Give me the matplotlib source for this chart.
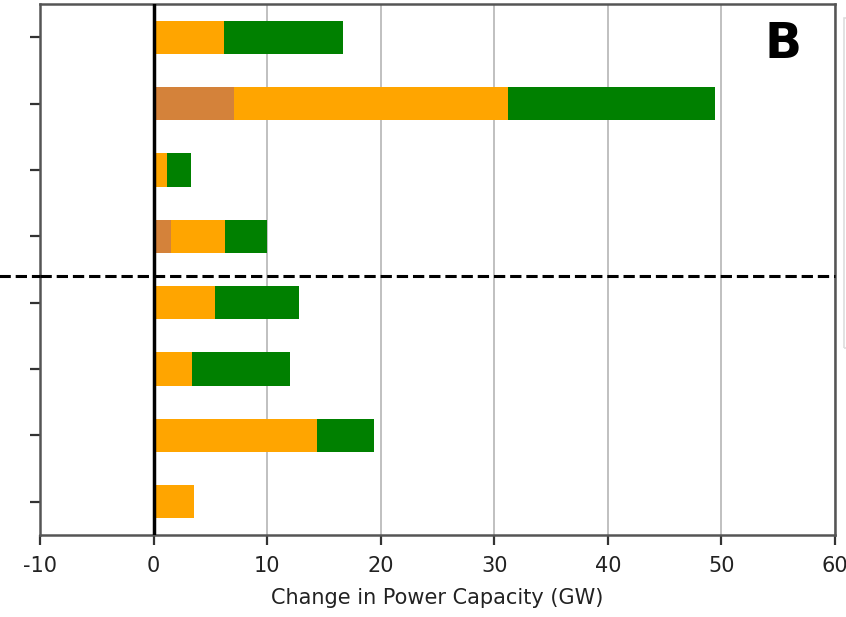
import matplotlib
matplotlib.use("Agg")
import matplotlib.pyplot as plt
import numpy as np
from matplotlib.patches import Rectangle

# rows listed top to bottom
rows = ["r1", "r2", "r3", "r4", "r5", "r6", "r7", "r8"]
seg_dark = [0.0, 7.1, 0.0, 1.5, 0.0, 0.0, 0.0, 0.0]
seg_orange = [6.2, 24.1, 1.2, 4.8, 5.4, 3.4, 14.4, 3.6]
seg_green = [10.5, 18.2, 2.1, 3.7, 7.4, 8.6, 5.0, 0.0]

xticks = [-10, 0, 10, 20, 30, 40, 50, 60]
xlabel = "Change in Power Capacity (GW)"
panel = "B"
divider_y = 3.4

fig = plt.figure(figsize=(8.46, 6.17), dpi=100)
ax = fig.add_axes([40/846, 1-535/617, (835-40)/846, (535-4)/617])

y = np.arange(len(rows))[::-1]
d = np.array(seg_dark)
o = np.array(seg_orange)
g = np.array(seg_green)
ax.barh(y, d, height=0.5, color="#D4823A", zorder=3)
ax.barh(y, o, left=d, height=0.5, color="#FFA500", zorder=3)
ax.barh(y, g, left=d + o, height=0.5, color="#008000", zorder=3)

ax.set_xlim(-10, 60)
ax.set_ylim(-0.5, 7.5)
ax.set_xticks(xticks)
ax.set_xticklabels([str(t) for t in xticks], fontsize=15, color="#222222")
ax.set_yticks(y)
ax.set_yticklabels([""] * len(rows))
ax.tick_params(axis="both", length=7, width=1.6, color="#333333")
ax.tick_params(axis="x", pad=8)
ax.xaxis.grid(True, color="#bbbbbb", linewidth=1.3, zorder=0)
ax.set_axisbelow(True)
for s in ax.spines.values():
    s.set_linewidth(1.8)
    s.set_color("#555555")

ax.axvline(0, color="black", linewidth=2.5, zorder=4)
ax.axhline(divider_y, color="black", linewidth=2.2, linestyle="--", zorder=5, clip_on=False)
# extend dashed line to the left figure edge
ax.plot([-13.6, -10], [divider_y, divider_y], color="black", linewidth=2.2, linestyle="--", clip_on=False, zorder=5)

ax.set_xlabel(xlabel, fontsize=15, color="#222222", labelpad=9)
ax.text(0.935, 0.925, panel, transform=ax.transAxes, fontsize=35, fontweight="bold",
        ha="center", va="center", family="DejaVu Sans")

# partial legend frame at the right edge
fig.patches.append(Rectangle((844/846, 1-348/617), 0.05, (348-18)/617, transform=fig.transFigure,
                             fill=False, edgecolor="#dddddd", linewidth=1.2))

fig.savefig("out.png", dpi=100)
